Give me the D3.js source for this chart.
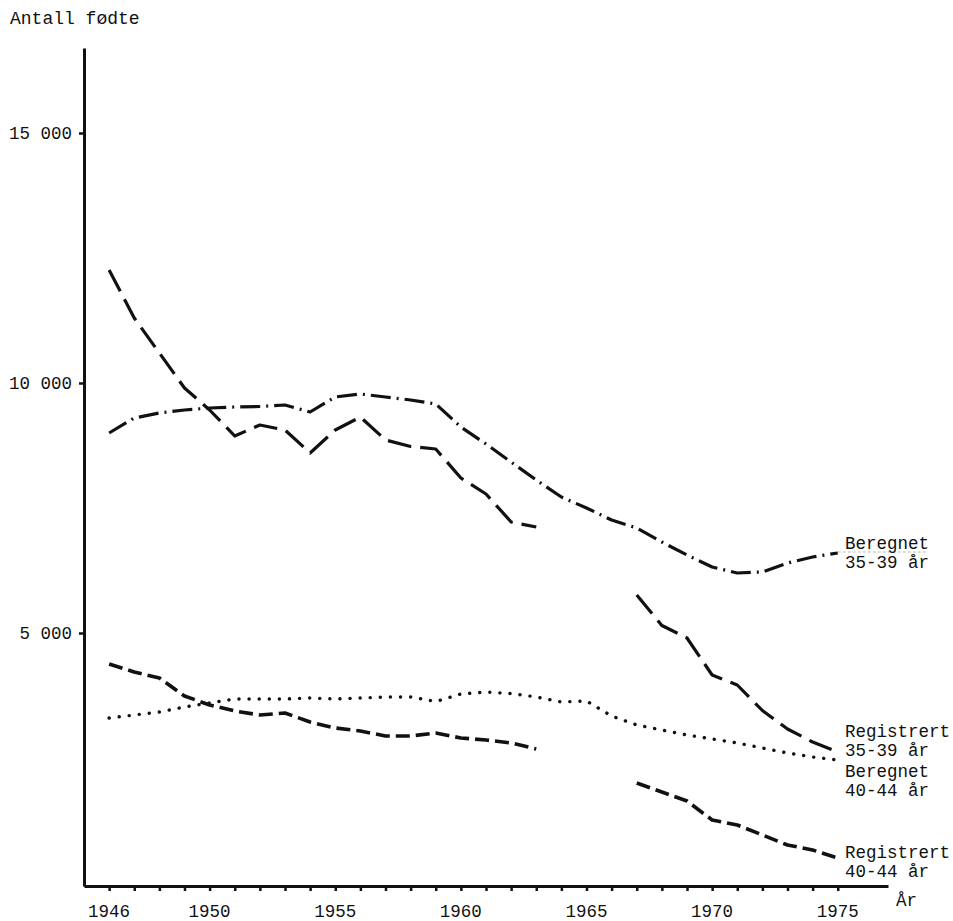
<!DOCTYPE html>
<html>
<head>
<meta charset="utf-8">
<script src="https://cdn.jsdelivr.net/npm/d3@7"></script>
<style>
  html, body { margin: 0; padding: 0; background: #fff; }
  svg { display: block; }
  text { font-family: "Liberation Mono", "DejaVu Sans Mono", monospace; fill: #111; }
</style>
</head>
<body>
<svg id="chart" width="953" height="921"></svg>
<script>
const years = d3.range(1946, 1976);
const xLabelYears = [1946, 1950, 1955, 1960, 1965, 1970, 1975];
const yTickValues = [5000, 10000, 15000];

const registrert3539 = [12260, 11300, 10600, 9900, 9460, 8940, 9160, 9060, 8600, 9060,
  9320, 8860, 8730, 8680, 8100, 7780, 7220, 7120, null, null,
  null, 5760, 5150, 4900, 4160, 3960, 3450, 3080, 2820, 2620];
const beregnet3539 = [9000, 9300, 9400, 9460, 9500, 9520, 9530, 9560, 9420, 9720,
  9780, 9720, 9660, 9580, 9120, 8780, 8420, 8060, 7720, 7500,
  7260, 7100, 6820, 6560, 6320, 6200, 6220, 6400, 6520, 6600];
const beregnet4044 = [3300, 3360, 3420, 3520, 3600, 3680, 3680, 3680, 3700, 3680,
  3700, 3720, 3720, 3630, 3780, 3820, 3790, 3720, 3620, 3640,
  3340, 3160, 3060, 2960, 2880, 2800, 2700, 2600, 2520, 2460];
const registrert4044 = [4380, 4220, 4100, 3740, 3560, 3440, 3360, 3400, 3220, 3100,
  3040, 2940, 2940, 3000, 2900, 2860, 2800, 2680, null, null,
  null, 2000, 1820, 1640, 1260, 1160, 960, 760, 660, 500];

const seriesNames = ["Registrert 35-39 år", "Beregnet 35-39 år", "Beregnet 40-44 år", "Registrert 40-44 år"];

const svg = d3.select("#chart");
const x = d3.scaleLinear().domain([1945, 1977]).range([84, 888]);
const y = d3.scaleLinear().domain([-60, 16700]).range([886, 48]);
const FS = 17.5;

// axes
const yAxis = d3.axisLeft(y).tickValues(yTickValues).tickSize(5).tickSizeOuter(0)
  .tickFormat(d => d3.format(",")(d).replace(",", " "));
const gy = svg.append("g").attr("transform", `translate(${x(1945)},0)`).call(yAxis);
gy.select(".domain").attr("stroke", "#111").attr("stroke-width", 3);
gy.selectAll(".tick line").attr("stroke", "#111").attr("stroke-width", 2.5);
gy.selectAll(".tick text").attr("x", -12).attr("font-size", FS)
  .style("font-family", '"Liberation Mono", monospace').attr("fill", "#111");

const xAxis = d3.axisBottom(x).tickValues(years).tickSize(5).tickSizeOuter(0).tickFormat("");
const gx = svg.append("g").attr("transform", `translate(0,${y(-60)})`).call(xAxis);
gx.select(".domain").attr("stroke", "#111").attr("stroke-width", 3);
gx.selectAll(".tick line").attr("stroke", "#111").attr("stroke-width", 2.5);

svg.selectAll(".xlab").data(xLabelYears).enter().append("text")
  .attr("class", "xlab")
  .attr("x", d => x(d)).attr("y", 917)
  .attr("text-anchor", "middle").attr("font-size", FS)
  .text(d => d);

svg.append("text").attr("x", 10).attr("y", 24).attr("font-size", 18).text("Antall fødte");
svg.append("text").attr("x", 896).attr("y", 906).attr("font-size", FS).text("År");

// lines
const line = d3.line()
  .defined(d => d[1] !== null)
  .x(d => x(d[0])).y(d => y(d[1]));

const styles = [
  { data: registrert3539, dash: "24,9", width: 3.2, cap: "butt" },
  { data: beregnet3539, dash: "20,6,2,6", width: 3.2, cap: "butt" },
  { data: beregnet4044, dash: "0.1,10", width: 3.4, cap: "round" },
  { data: registrert4044, dash: "14,6", width: 3.6, cap: "butt" }
];

styles.forEach((s, i) => {
  svg.append("path")
    .datum(years.map((yr, j) => [yr, s.data[j]]))
    .attr("fill", "none")
    .attr("stroke", "#111")
    .attr("stroke-width", s.width)
    .attr("stroke-dasharray", s.dash)
    .attr("stroke-linecap", s.cap)
    .attr("stroke-linejoin", "round")
    .attr("d", line)
    .append("title").text(seriesNames[i]);
});

// faint underline near Beregnet 35-39 label
svg.append("line")
  .attr("x1", x(1975)).attr("x2", 928)
  .attr("y1", y(6600) - 1).attr("y2", y(6600) - 1)
  .attr("stroke", "#bbb").attr("stroke-width", 1).attr("stroke-dasharray", "3,2");

// series labels
const labels = [
  { lines: ["Beregnet", "35-39 år"], y0: 549 },
  { lines: ["Registrert", "35-39 år"], y0: 737 },
  { lines: ["Beregnet", "40-44 år"], y0: 777 },
  { lines: ["Registrert", "40-44 år"], y0: 858 }
];
labels.forEach(l => {
  l.lines.forEach((t, k) => {
    svg.append("text").attr("x", 845).attr("y", l.y0 + k * 19)
      .attr("font-size", FS).text(t);
  });
});
</script>
</body>
</html>
